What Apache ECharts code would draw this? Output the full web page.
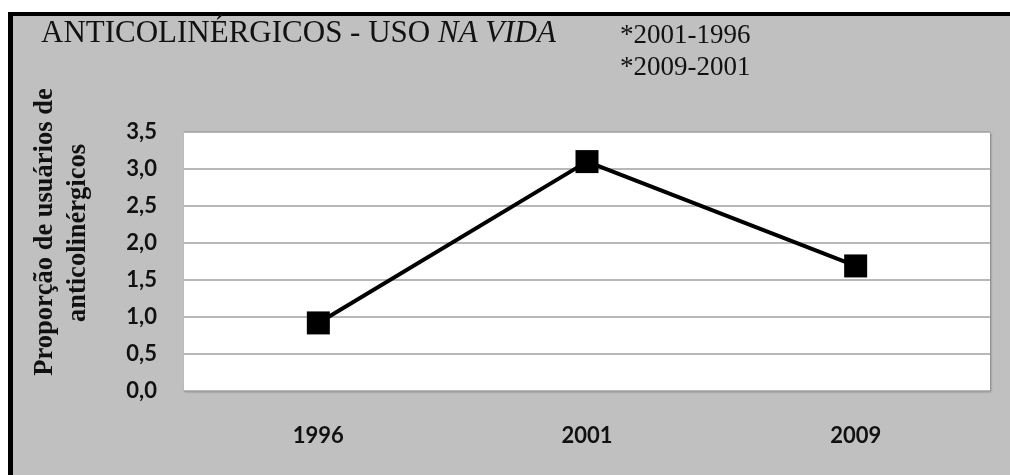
<!DOCTYPE html>
<html>
<head>
<meta charset="utf-8">
<script src="https://cdn.jsdelivr.net/npm/echarts@6/dist/echarts.min.js"></script>
<style>
  html, body { margin: 0; padding: 0; background: #fff; }
  #chart { width: 1010px; height: 475px; }
</style>
</head>
<body>
<div id="chart"></div>
<script>
// Anticholinergic lifetime use, by survey year
const years = ['1996', '2001', '2009'];
const proportion = [0.92, 3.10, 1.69];
const yTicks = { min: 0, max: 3.5, interval: 0.5 };

const titleMain = 'ANTICOLINÉRGICOS - USO ';
const titleItalic = 'NA VIDA';
const notes = ['*2001-1996', '*2009-2001'];
const yNameLines = ['Proporção de usuários de', 'anticolinérgicos'];

const chart = echarts.init(document.getElementById('chart'));

const serif = '"Liberation Serif", "Times New Roman", serif';
const sans = 'Lato, "Open Sans", sans-serif';

chart.setOption({
  animation: false,
  backgroundColor: '#ffffff',
  title: [
    {
      left: 41, top: 18, padding: 0,
      text: '{n|' + titleMain + '}{i|' + titleItalic + '}',
      textStyle: {
        fontWeight: 'normal',
        rich: {
          n: { fontFamily: serif, fontSize: 31, fontWeight: 'normal', color: '#111' },
          i: { fontFamily: serif, fontSize: 31, fontWeight: 'normal', fontStyle: 'italic', color: '#111' }
        }
      }
    },
    {
      left: 620, top: 20, padding: 0,
      text: notes.join('\n'),
      textStyle: { fontFamily: serif, fontSize: 27, fontWeight: 'normal', color: '#111', lineHeight: 32 }
    }
  ],
  graphic: [
    // outer frame: black edge with grey panel
    { type: 'rect', z: -10, shape: { x: 8, y: 12, width: 1100, height: 600 }, style: { fill: '#000' } },
    { type: 'rect', z: -9, shape: { x: 13, y: 16, width: 1100, height: 600 }, style: { fill: '#c0c0c0' } },
    // vertical axis title, two lines
    {
      type: 'text', x: 45, y: 232, rotation: Math.PI / 2,
      style: { text: yNameLines[0], font: 'bold 26.5px ' + serif, fill: '#111', align: 'center', verticalAlign: 'middle' }
    },
    {
      type: 'text', x: 78, y: 233, rotation: Math.PI / 2,
      style: { text: yNameLines[1], font: 'bold 26.5px ' + serif, fill: '#111', align: 'center', verticalAlign: 'middle' }
    }
  ],
  grid: {
    left: 184, right: 20, top: 132, bottom: 84,
    show: true,
    backgroundColor: '#ffffff',
    borderWidth: 0,
    shadowColor: 'rgba(0,0,0,0.35)',
    shadowBlur: 2,
    shadowOffsetX: 1,
    shadowOffsetY: 1
  },
  xAxis: {
    type: 'category',
    data: years,
    boundaryGap: true,
    axisLine: { show: true, lineStyle: { color: '#a0a0a0', width: 1 } },
    axisTick: { show: false },
    axisLabel: { margin: 34, fontFamily: sans, fontSize: 22, fontWeight: 'bold', color: '#111' }
  },
  yAxis: {
    type: 'value',
    min: yTicks.min, max: yTicks.max, interval: yTicks.interval,
    axisLine: { show: false },
    axisTick: { show: false },
    axisLabel: {
      margin: 27, fontFamily: sans, fontSize: 22, fontWeight: 'bold', color: '#111',
      formatter: v => v.toFixed(1).replace('.', ',')
    },
    splitLine: { show: true, lineStyle: { color: '#a0a0a0', width: 1.5 } }
  },
  series: [{
    type: 'line',
    data: proportion,
    symbol: 'rect',
    symbolSize: 23,
    itemStyle: { color: '#000' },
    lineStyle: { color: '#000', width: 4 }
  }]
});
</script>
</body>
</html>
